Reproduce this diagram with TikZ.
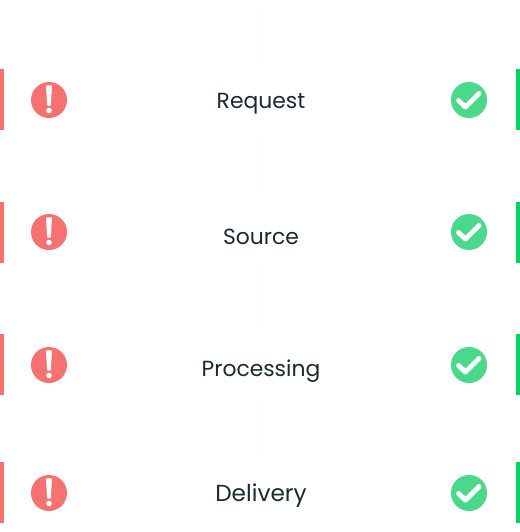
\documentclass[tikz,border=0pt]{standalone}
\usepackage{fontspec}
\setmainfont{Poppins}
\usepackage{xcolor}
\usetikzlibrary{positioning}
\definecolor{alarm}{HTML}{F87171}
\definecolor{okay}{HTML}{4AD98A}
\definecolor{okbar}{HTML}{00D65F}
\definecolor{ink}{HTML}{1B2A2E}
\definecolor{faint}{HTML}{F8F9F9}
\tikzset{
  stage/.style={text=ink,font=\fontsize{16.4}{20}\selectfont,inner sep=0pt,anchor=base},
  badbar/.style={fill=alarm},
  goodbar/.style={fill=okbar},
  badspot/.style={circle,fill=alarm,minimum size=27pt,inner sep=0pt},
  goodspot/.style={circle,fill=okay,minimum size=27pt,inner sep=0pt},
  bang/.style={fill=white,draw=white,line width=.8pt,line join=round},
  tick/.style={draw=white,line width=3.7pt,line cap=round,line join=round},
  gap/.style={draw=faint,line width=.6pt,dashed}
}
\begin{document}
\begin{tikzpicture}[x=.75pt,y=-.75pt]
  \useasboundingbox (0,0) rectangle (520,532);
  \fill[white] (0,0) rectangle (520,532);
  \node[stage] (request) at (261,108) {Request};
  \node[stage] (source) at (261,244) {Source};
  \node[stage] (processing) at (261,376) {Processing};
  \node[stage,font=\fontsize{17.4}{20}\selectfont] (delivery) at (261,501) {Delivery};
  % faint guides between the stages
  \draw[gap] (259,8) -- (259,65);
  \draw[gap] (259,138) -- (259,193);
  \draw[gap] (259,270) -- (259,325);
  \draw[gap] (259,403) -- (259,455);
  \foreach \name/\barY/\spotY in {a/69/100,b/202/232,c/334/365,d/462/493} {
    \fill[badbar] (0,\barY) rectangle (4,\barY+61);
    \fill[goodbar] (516,\barY) rectangle (520,\barY+61);
    \node[badspot] (bad\name) at (49,\spotY) {};
    \node[goodspot] (good\name) at (469,\spotY) {};
    \draw[bang] (46.6,\spotY-14) -- (51.4,\spotY-14) -- (50.4,\spotY+5) -- (47.6,\spotY+5) -- cycle;
    \fill[white] (49,\spotY+10.5) circle (2.8);
    \draw[tick] (458.5,\spotY+.5) -- (465.5,\spotY+7) -- (479,\spotY-6.5);
  }
\end{tikzpicture}
\end{document}
